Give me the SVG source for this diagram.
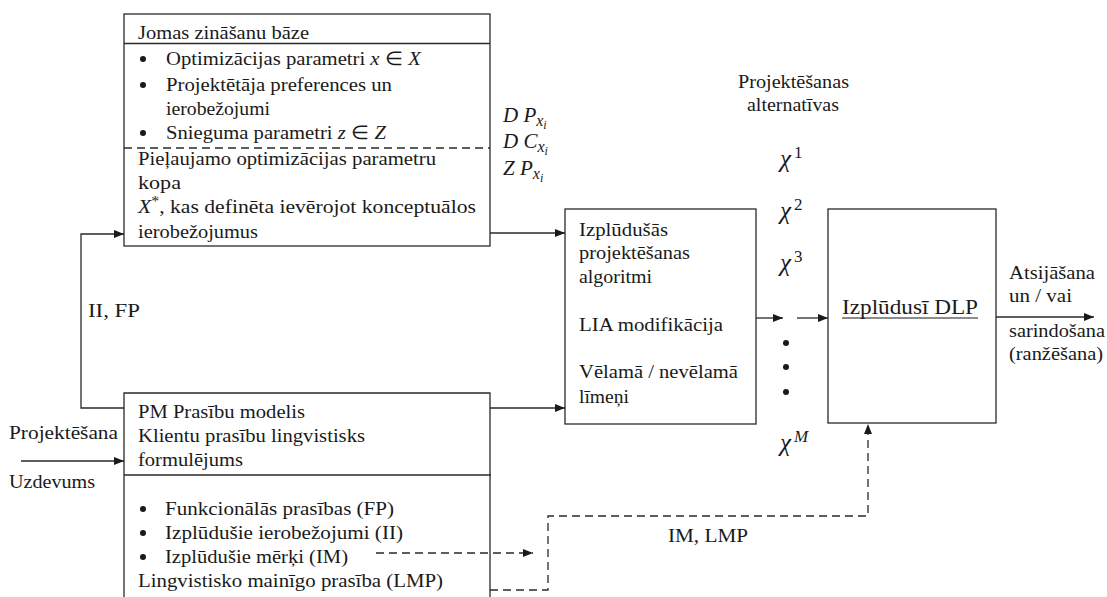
<svg xmlns="http://www.w3.org/2000/svg" width="1107" height="597" viewBox="0 0 1107 597" font-family="'Liberation Serif', 'Times New Roman', serif">
  <defs>
    <marker id="arrow" viewBox="0 0 10 8" refX="10" refY="4" markerWidth="10" markerHeight="8" markerUnits="userSpaceOnUse" orient="auto">
      <path d="M0,0 L10,4 L0,8 Z" fill="#1a1a1a"/>
    </marker>
    <style>
      text { font-family: "Liberation Serif", "Times New Roman", serif; font-size: 19px; fill: #1a1a1a; }
      .box { fill: #ffffff; stroke: #2a2a2a; stroke-width: 1.3; }
      .ln { fill: none; stroke: #2a2a2a; stroke-width: 1.3; }
      .dash { fill: none; stroke: #2a2a2a; stroke-width: 1.3; stroke-dasharray: 8 5; }
      .it { font-style: italic; }
      text.math { font-style: italic; font-size: 21px; }
      text.chi { font-style: italic; font-size: 25px; }
      tspan.sup { font-size: 17px; font-style: normal; }
      tspan.supi { font-size: 17px; font-style: italic; }
      tspan.star { font-size: 14px; }
      tspan.sub { font-size: 16px; font-style: italic; }
      tspan.subsub { font-size: 12px; font-style: italic; }
    </style>
  </defs>

  <!-- domain knowledge base -->
  <g id="knowledge-base">
    <rect class="box" x="124" y="14" width="366" height="232"/>
    <line class="ln" x1="124" y1="43.5" x2="490" y2="43.5"/>
    <line class="dash" x1="124" y1="148" x2="490" y2="148"/>
    <text x="138" y="39" textLength="171" lengthAdjust="spacingAndGlyphs">Jomas zināšanu bāze</text>
    <circle cx="143" cy="59" r="3" fill="#1a1a1a"/>
    <text x="166" y="65" textLength="255" lengthAdjust="spacingAndGlyphs">Optimizācijas parametri <tspan class="it">x</tspan> ∈ <tspan class="it">X</tspan></text>
    <circle cx="143" cy="85" r="3" fill="#1a1a1a"/>
    <text x="166" y="91" textLength="226" lengthAdjust="spacingAndGlyphs">Projektētāja preferences un</text>
    <text x="166" y="115" textLength="104" lengthAdjust="spacingAndGlyphs">ierobežojumi</text>
    <circle cx="143" cy="133" r="3" fill="#1a1a1a"/>
    <text x="166" y="139" textLength="220" lengthAdjust="spacingAndGlyphs">Snieguma parametri <tspan class="it">z</tspan> ∈ <tspan class="it">Z</tspan></text>
    <text x="138" y="165" textLength="298" lengthAdjust="spacingAndGlyphs">Pieļaujamo optimizācijas parametru</text>
    <text x="138" y="189" textLength="43" lengthAdjust="spacingAndGlyphs">kopa</text>
    <text x="138" y="213" textLength="338" lengthAdjust="spacingAndGlyphs"><tspan class="it">X</tspan><tspan class="star" dy="-7">*</tspan><tspan dy="7">, kas definēta ievērojot konceptuālos</tspan></text>
    <text x="138" y="238" textLength="120" lengthAdjust="spacingAndGlyphs">ierobežojumus</text>
  </g>

  <!-- design parameter labels -->
  <g id="dp-labels">
    <text x="503" y="122" class="math">D P<tspan class="sub" dy="4">x</tspan><tspan class="subsub" dy="3">i</tspan></text>
    <text x="503" y="148" class="math">D C<tspan class="sub" dy="4">x</tspan><tspan class="subsub" dy="3">i</tspan></text>
    <text x="503" y="175" class="math">Z P<tspan class="sub" dy="4">x</tspan><tspan class="subsub" dy="3">i</tspan></text>
  </g>

  <!-- fuzzy design algorithms -->
  <g id="fuzzy-algorithms">
    <rect class="box" x="565" y="209" width="191" height="215"/>
    <text x="579" y="236" textLength="89" lengthAdjust="spacingAndGlyphs">Izplūdušās</text>
    <text x="579" y="259" textLength="111" lengthAdjust="spacingAndGlyphs">projektēšanas</text>
    <text x="579" y="283" textLength="73" lengthAdjust="spacingAndGlyphs">algoritmi</text>
    <text x="579" y="331" textLength="144" lengthAdjust="spacingAndGlyphs">LIA modifikācija</text>
    <text x="579" y="378" textLength="159" lengthAdjust="spacingAndGlyphs">Vēlamā / nevēlamā</text>
    <text x="579" y="403" textLength="50" lengthAdjust="spacingAndGlyphs">līmeņi</text>
  </g>

  <!-- design alternatives -->
  <g id="alternatives">
    <text x="793.5" y="88" text-anchor="middle" textLength="111" lengthAdjust="spacingAndGlyphs">Projektēšanas</text>
    <text x="793" y="111" text-anchor="middle" textLength="92" lengthAdjust="spacingAndGlyphs">alternatīvas</text>
    <text x="780" y="167" class="chi">χ<tspan class="sup" dx="3" dy="-9">1</tspan></text>
    <text x="780" y="219" class="chi">χ<tspan class="sup" dx="3" dy="-9">2</tspan></text>
    <text x="780" y="271" class="chi">χ<tspan class="sup" dx="3" dy="-9">3</tspan></text>
    <circle cx="786" cy="343" r="3" fill="#1a1a1a"/>
    <circle cx="786" cy="367" r="3" fill="#1a1a1a"/>
    <circle cx="786" cy="392" r="3" fill="#1a1a1a"/>
    <text x="780" y="451" class="chi">χ<tspan class="supi" dx="3" dy="-9">M</tspan></text>
  </g>

  <!-- fuzzy DLP -->
  <g id="fuzzy-dlp">
    <rect class="box" x="828" y="209" width="168" height="214"/>
    <text x="842" y="314" style="font-size:21px" textLength="136" lengthAdjust="spacingAndGlyphs">Izplūdusī DLP</text>
    <line x1="842" y1="318" x2="978" y2="318" stroke="#1a1a1a" stroke-width="1.1"/>
  </g>

  <!-- output labels -->
  <g id="output-labels">
    <text x="1009" y="279" textLength="86" lengthAdjust="spacingAndGlyphs">Atsijāšana</text>
    <text x="1009" y="302" textLength="63" lengthAdjust="spacingAndGlyphs">un / vai</text>
    <text x="1009" y="337" textLength="96" lengthAdjust="spacingAndGlyphs">sarindošana</text>
    <text x="1009" y="360" textLength="94" lengthAdjust="spacingAndGlyphs">(ranžēšana)</text>
  </g>

  <!-- requirements model -->
  <g id="requirements-model">
    <path class="box" d="M124,600 V393 H490 V600"/>
    <line class="ln" x1="124" y1="475" x2="491" y2="475"/>
    <text x="138" y="418" textLength="167" lengthAdjust="spacingAndGlyphs">PM Prasību modelis</text>
    <text x="138" y="442" textLength="227" lengthAdjust="spacingAndGlyphs">Klientu prasību lingvistisks</text>
    <text x="138" y="466" textLength="105" lengthAdjust="spacingAndGlyphs">formulējums</text>
    <circle cx="143" cy="509" r="3" fill="#1a1a1a"/>
    <text x="165" y="515" textLength="229" lengthAdjust="spacingAndGlyphs">Funkcionālās prasības (FP)</text>
    <circle cx="143" cy="533" r="3" fill="#1a1a1a"/>
    <text x="165" y="539" textLength="238" lengthAdjust="spacingAndGlyphs">Izplūdušie ierobežojumi (II)</text>
    <circle cx="143" cy="557" r="3" fill="#1a1a1a"/>
    <text x="165" y="563" textLength="183" lengthAdjust="spacingAndGlyphs">Izplūdušie mērķi (IM)</text>
    <text x="138" y="587" textLength="305" lengthAdjust="spacingAndGlyphs">Lingvistisko mainīgo prasība (LMP)</text>
  </g>

  <!-- task input labels -->
  <g id="task-labels">
    <text x="9" y="439" textLength="109" lengthAdjust="spacingAndGlyphs">Projektēšana</text>
    <text x="9" y="488" textLength="86" lengthAdjust="spacingAndGlyphs">Uzdevums</text>
  </g>

  <!-- connector labels -->
  <g id="connector-labels">
    <text x="88" y="317" textLength="52" lengthAdjust="spacingAndGlyphs">II, FP</text>
    <text x="668" y="542" textLength="80" lengthAdjust="spacingAndGlyphs">IM, LMP</text>
  </g>

  <!-- connectors, drawn last so they stay on top of the box fills -->
  <g id="connectors">
    <!-- loop from requirements model back to knowledge base -->
    <path class="ln" d="M124,408 H81 V234 H124" marker-end="url(#arrow)"/>
    <!-- knowledge base to fuzzy algorithms -->
    <line class="ln" x1="490" y1="233" x2="565" y2="233" marker-end="url(#arrow)"/>
    <!-- requirements model to fuzzy algorithms -->
    <line class="ln" x1="490" y1="408" x2="565" y2="408" marker-end="url(#arrow)"/>
    <!-- task input -->
    <line class="ln" x1="21" y1="461" x2="124" y2="461" marker-end="url(#arrow)"/>
    <!-- algorithms to alternatives -->
    <line class="ln" x1="756" y1="318" x2="783" y2="318" marker-end="url(#arrow)"/>
    <!-- alternatives to DLP -->
    <line class="ln" x1="797" y1="318" x2="828" y2="318" marker-end="url(#arrow)"/>
    <!-- DLP output -->
    <line class="ln" x1="996" y1="317" x2="1094" y2="317" marker-end="url(#arrow)"/>
    <!-- IM dashed arrow -->
    <line class="dash" x1="376" y1="553" x2="533" y2="553" marker-end="url(#arrow)"/>
    <!-- LMP dashed route to DLP -->
    <path class="dash" d="M490,590 H548 V516 H868 V424" marker-end="url(#arrow)"/>
  </g>
</svg>
